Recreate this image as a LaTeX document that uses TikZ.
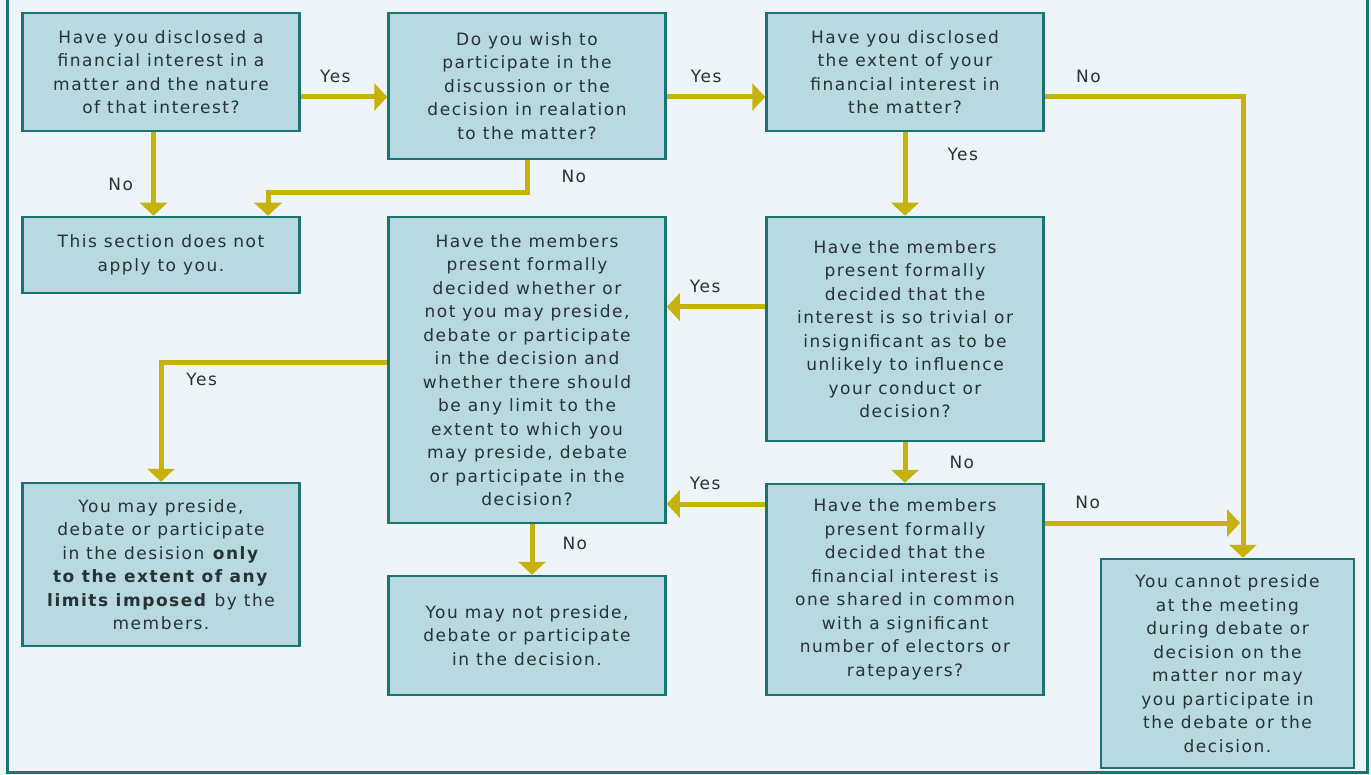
\documentclass[tikz,border=0pt]{standalone}
\usepackage{fontspec}
\setmainfont{DejaVu Sans}[LetterSpace=9]
\usetikzlibrary{arrows.meta}

\definecolor{pagebg}{HTML}{EEF4F7}
\definecolor{boxfill}{HTML}{B8D9E0}
\definecolor{boxline}{HTML}{1B7474}
\definecolor{flowc}{HTML}{C5B20A}
\definecolor{txtc}{HTML}{263234}

\tikzset{
  qbox/.style={draw=boxline, fill=boxfill, line width=2.5pt, inner sep=0pt, align=center,
    text=txtc, font=\fontsize{17}{23.5}\selectfont, minimum width=\boxW pt},
  flow/.style={draw=flowc, line width=5pt, -{Triangle[width=27pt,length=13pt]}},
  lbl/.style={text=txtc, inner sep=2pt, font=\fontsize{17}{18}\selectfont},
}

\begin{document}
\begin{tikzpicture}[x=1pt,y=-1pt]

\pgfmathsetmacro{\boxW}{277}
\pgfmathsetmacro{\colA}{161}
\pgfmathsetmacro{\colB}{527}
\pgfmathsetmacro{\colC}{905}

\useasboundingbox[fill=pagebg] (0,0) rectangle (1371,775);
\draw[boxline, line width=3pt] (7,-5) -- (7,772) -- (1367,772) -- (1367,-5);

% questions and outcomes
\node[qbox, minimum height=118pt] (disclose) at (\colA,72) {Have you disclosed a\\financial interest in a\\matter and the nature\\of that interest?};
\node[qbox, minimum height=146pt] (wish) at (\colB,86) {Do you wish to\\participate in the\\discussion or the\\decision in realation\\to the matter?};
\node[qbox, minimum height=118pt] (extent) at (\colC,72) {Have you disclosed\\the extent of your\\financial interest in\\the matter?};
\node[qbox, minimum height=76pt] (notapply) at (\colA,255) {This section does not\\apply to you.};
\node[qbox, minimum height=306pt] (decide) at (\colB,370) {Have the members\\present formally\\decided whether or\\not you may preside,\\debate or participate\\in the decision and\\whether there should\\be any limit to the\\extent to which you\\may preside, debate\\or participate in the\\decision?};
\node[qbox, minimum height=224pt] (trivial) at (\colC,329) {Have the members\\present formally\\decided that the\\interest is so trivial or\\insignificant as to be\\unlikely to influence\\your conduct or\\decision?};
\node[qbox, minimum height=211pt] (shared) at (\colC,589.5) {Have the members\\present formally\\decided that the\\financial interest is\\one shared in common\\with a significant\\number of electors or\\ratepayers?};
\node[qbox, minimum height=163pt] (limit) at (\colA,564.5) {You may preside,\\debate or participate\\in the desision \textbf{only}\\\textbf{to the extent of any}\\\textbf{limits imposed} by the\\members.};
\node[qbox, minimum height=119pt] (maynot) at (\colB,635.5) {You may not preside,\\debate or participate\\in the decision.};
\node[qbox, minimum width=253pt, minimum height=209pt] (cannot) at (1227.5,663.5) {You cannot preside\\at the meeting\\during debate or\\decision on the\\matter nor may\\you participate in\\the debate or the\\decision.};

\coordinate (r1) at (0,97);
\coordinate (r2) at (0,307);
\coordinate (r3) at (0,504);
\coordinate (r4) at (0,523);
\coordinate (r5) at (0,363);
\coordinate (tx) at (1243,0);
\coordinate (k1) at (268,193);

\draw[flow] (disclose.east |- r1) -- node[lbl, above=10pt, pos=0.4]{Yes} (wish.west |- r1);
\draw[flow] (wish.east |- r1) -- node[lbl, above=10pt, pos=0.4]{Yes} (extent.west |- r1);
\draw[flow] ([xshift=-7.5pt]disclose.south) -- node[lbl, left=16pt, pos=0.63]{No} ([xshift=-7.5pt]notapply.north);
\draw[flow] (wish.south) |- node[lbl, right=30pt, pos=0.25]{No} (k1) -- (k1 |- notapply.north);
\draw[flow] (extent.east |- r1) -| node[lbl, above=10pt, pos=0.11]{No} (tx |- cannot.north);
\draw[flow] (extent.south) -- node[lbl, right=38pt, pos=0.26]{Yes} (trivial.north);
\draw[flow] (trivial.west |- r2) -- node[lbl, above=10pt, pos=0.61]{Yes} (decide.east |- r2);
\draw[flow] (trivial.south) -- node[lbl, right=40pt]{No} (shared.north);
\draw[flow] (shared.west |- r3) -- node[lbl, above=10pt, pos=0.61]{Yes} (decide.east |- r3);
\draw[flow] (shared.east |- r4) -- node[lbl, above=10pt, pos=0.22]{No} ([xshift=-3pt]tx |- r4);
\draw[flow] (decide.west |- r5) -| node[lbl, below=6pt, pos=0.41]{Yes} (limit.north);
\draw[flow] ([xshift=5pt]decide.south) -- node[lbl, right=26pt, pos=0.38]{No} ([xshift=5pt]maynot.north);

\end{tikzpicture}
\end{document}
